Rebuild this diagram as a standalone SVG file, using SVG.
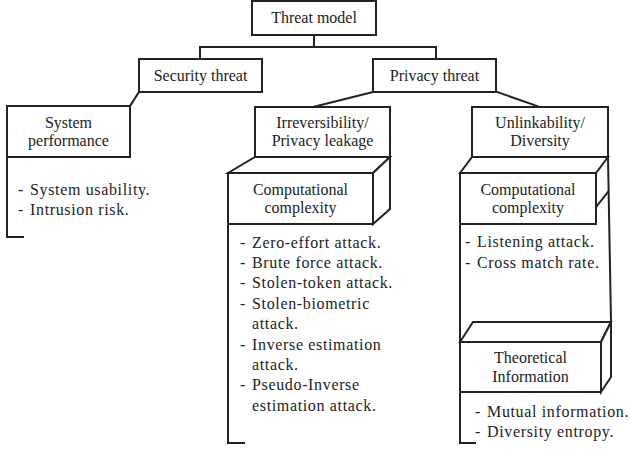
<svg xmlns="http://www.w3.org/2000/svg" width="630" height="449" viewBox="0 0 630 449">
<style>
  .box { fill: #ffffff; stroke: #222222; stroke-width: 2; stroke-linejoin: miter; }
  .ln { fill: none; stroke: #222222; stroke-width: 2; stroke-linecap: square; }
  .lbl { font-family: "Liberation Serif", "Times New Roman", serif; font-size: 16px; fill: #222222; text-anchor: middle; }
  .li { font-family: "Liberation Serif", "Times New Roman", serif; font-size: 16px; fill: #222222; letter-spacing: 0.65px; }
</style>
<rect width="630" height="449" fill="#ffffff"/>

<g id="connectors">
  <path class="ln" d="M314,35 V47 M200,47 H436 M200,47 V59 M436,47 V59"/>
  <path class="ln" d="M139,92 L130,106"/>
  <path class="ln" d="M373,92 L313,107"/>
  <path class="ln" d="M497,92 L540,107"/>
</g>

<g id="threat-model">
  <rect class="box" x="252" y="1" width="124" height="34"/>
  <text class="lbl" x="314" y="23">Threat model</text>
</g>

<g id="security-threat">
  <rect class="box" x="139" y="59" width="123" height="33"/>
  <text class="lbl" x="200.5" y="81">Security threat</text>
</g>

<g id="privacy-threat">
  <rect class="box" x="373" y="59" width="123" height="33"/>
  <text class="lbl" x="434.5" y="81">Privacy threat</text>
</g>

<g id="system-performance">
  <rect class="box" x="7" y="106" width="123" height="51"/>
  <text class="lbl" x="68.5" y="128">System</text>
  <text class="lbl" x="68.5" y="146">performance</text>
  <path class="ln" d="M7,157 V237 H23"/>
  <text class="li"><tspan x="18" y="195">-</tspan><tspan x="30" y="195">System usability.</tspan></text>
  <text class="li"><tspan x="18" y="215">-</tspan><tspan x="30" y="215">Intrusion risk.</tspan></text>
</g>

<g id="irreversibility">
  <rect class="box" x="255" y="107" width="135" height="50"/>
  <text class="lbl" x="322.5" y="128">Irreversibility/</text>
  <text class="lbl" x="322.5" y="146">Privacy leakage</text>
</g>

<g id="computational-complexity-1">
  <polygon class="box" points="228,173 255,157 390,157 373,173"/>
  <polygon class="box" points="373,173 390,157 390,209 373,224"/>
  <rect class="box" x="228" y="173" width="145" height="51"/>
  <text class="lbl" x="300.5" y="195">Computational</text>
  <text class="lbl" x="300.5" y="213">complexity</text>
  <path class="ln" d="M228,224 V443 H244"/>
  <text class="li"><tspan x="240" y="247.5">-</tspan><tspan x="252" y="247.5">Zero-effort attack.</tspan></text>
  <text class="li"><tspan x="240" y="267.9">-</tspan><tspan x="252" y="267.9">Brute force attack.</tspan></text>
  <text class="li"><tspan x="240" y="288.3">-</tspan><tspan x="252" y="288.3">Stolen-token attack.</tspan></text>
  <text class="li"><tspan x="240" y="308.7">-</tspan><tspan x="252" y="308.7">Stolen-biometric</tspan></text>
  <text class="li" x="252" y="329.1">attack.</text>
  <text class="li"><tspan x="240" y="349.5">-</tspan><tspan x="252" y="349.5">Inverse estimation</tspan></text>
  <text class="li" x="252" y="369.9">attack.</text>
  <text class="li"><tspan x="240" y="390.3">-</tspan><tspan x="252" y="390.3">Pseudo-Inverse</tspan></text>
  <text class="li" x="252" y="410.7">estimation attack.</text>
</g>

<g id="unlinkability">
  <rect class="box" x="472" y="107" width="136" height="50"/>
  <text class="lbl" x="540" y="128">Unlinkability/</text>
  <text class="lbl" x="540" y="146">Diversity</text>
</g>

<g id="computational-complexity-2">
  <polygon class="box" points="460,173 472,157 608,157 596,173"/>
  <rect class="box" x="460" y="173" width="136" height="51"/>
  <path class="ln" d="M596,207 L608,192"/>
  <path class="ln" d="M608,157 L611,322"/>
  <text class="lbl" x="528" y="195">Computational</text>
  <text class="lbl" x="528" y="213">complexity</text>
  <path class="ln" d="M460,224 V342"/>
  <text class="li"><tspan x="465" y="247.3">-</tspan><tspan x="477" y="247.3">Listening attack.</tspan></text>
  <text class="li"><tspan x="465" y="267.5">-</tspan><tspan x="477" y="267.5">Cross match rate.</tspan></text>
</g>

<g id="theoretical-information">
  <polygon class="box" points="460,342 473,322 611,322 601,342"/>
  <polygon class="box" points="601,342 611,322 611,377 601,392"/>
  <rect class="box" x="460" y="342" width="141" height="50"/>
  <text class="lbl" x="530.5" y="363">Theoretical</text>
  <text class="lbl" x="530.5" y="382">Information</text>
  <path class="ln" d="M460,392 V443 H475"/>
  <text class="li"><tspan x="475" y="417.3">-</tspan><tspan x="487" y="417.3">Mutual information.</tspan></text>
  <text class="li"><tspan x="475" y="436.7">-</tspan><tspan x="487" y="436.7">Diversity entropy.</tspan></text>
</g>
</svg>
